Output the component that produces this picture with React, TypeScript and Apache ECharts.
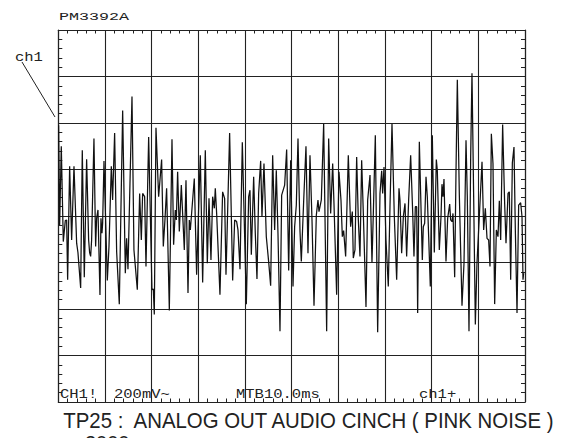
import React, { useEffect, useRef } from "react";
import * as echarts from "echarts";

// Time of each trace vertex (ms) — 10 ms / div, 10 divisions
const timeMs = [
  0.07, 0.29, 0.64, 1.07, 1.5, 1.79, 2.0, 2.43, 2.86, 3.36, 3.93, 4.21, 4.79, 5.14, 5.57, 6.07, 6.5, 6.71, 6.93, 7.14,
  7.64, 8.0, 8.21, 8.5, 8.93, 9.14, 9.36, 9.5, 9.79, 10.14, 10.5, 10.86, 11.36, 11.64, 12.07, 12.5, 13.07, 13.79, 14.36, 14.64,
  14.93, 15.79, 16.21, 16.93, 17.43, 17.79, 18.07, 18.5, 18.79, 19.36,
  20.07, 20.36, 20.57, 20.93, 21.5, 22.14, 22.5, 22.86, 23.21, 23.79, 24.36, 24.71, 25.07, 25.29, 25.57, 25.93, 26.36, 27.0, 27.36, 27.79,
  28.07, 28.29, 29.14, 29.64, 30.21, 30.43, 30.93, 31.5, 31.93, 32.29, 32.71, 33.07, 33.43, 33.64, 33.93, 34.64, 35.21, 35.64, 35.93, 36.14,
  36.71, 37.36, 37.79, 38.21, 38.5, 38.93, 39.43, 40.29,
  40.79, 41.07, 41.36, 41.86, 42.21, 42.57, 42.93, 43.36, 43.64, 44.07, 44.57, 45.07, 45.5, 45.93, 46.36, 46.71, 47.07, 47.5, 47.86, 48.5,
  48.93, 49.36, 49.79, 50.29, 50.64, 51.0, 51.36, 51.79, 52.07, 52.57, 53.07, 53.5, 53.93, 54.36, 54.79, 55.29, 55.64, 55.86, 56.36, 56.86,
  57.5, 57.93, 58.36, 58.79,
  59.07, 59.64, 60.14, 60.57, 60.86, 61.14, 61.57, 62.14, 62.64, 63.0, 63.21, 63.57, 63.93, 64.29, 64.64, 65.0, 65.36, 65.93, 66.29, 66.79,
  67.21, 67.5, 67.93, 68.43, 68.93, 69.29, 69.5, 69.79, 70.21, 70.71, 71.07, 71.5, 72.0, 72.5, 73.0, 73.21, 73.57, 73.93, 74.29, 74.64,
  75.07, 75.5, 75.93, 76.21, 76.5, 76.79, 77.0, 77.36, 77.64, 78.0, 78.21, 78.5, 78.79,
  79.07, 79.36, 79.71, 80.14, 80.57, 81.0, 81.21, 81.64, 82.0, 82.21, 82.43, 82.64, 83.07, 83.43, 83.86, 84.07, 84.36, 84.57, 84.93, 85.21,
  85.5, 85.93, 86.5, 86.93, 87.36, 87.64, 88.0, 88.36, 88.64, 89.0, 89.36, 89.71, 90.21, 90.79, 91.14, 91.5, 91.86, 92.21, 92.5, 92.79,
  93.14, 93.5, 93.86, 94.21, 94.5, 94.79, 95.21, 95.64, 95.93, 96.36, 96.64, 96.93, 97.29, 97.64, 97.93, 98.29, 98.64, 99.07, 99.36, 99.57,
  99.71,
];

// Voltage of each trace vertex (mV) — 200 mV / div, 8 divisions
const voltageMv = [
  390, -39, 300, -110, -20, -17, -274, 214, -103, 214, -117, -157, -310, 283, -263, 244, -103, -157, -174, -103,
  333, -131, -10, 26, -340, -10, -74, -31, 237, -17, -277, -131, 214, 69, 357, -153, -379, 454, -246, -96,
  -229, 514, -146, -317, 97, -103, 97, 83, -217, 340,
  -317, -314, -424, 380, 83, 243, -131, -14, 119, -406, 330, -124, 26, -17, 190, -67, 133, -146, 154, -331,
  -17, -60, 161, -253, 126, 261, -286, 283, -203, 76, -189, 83, 33, 119, 11, -339, 104, 76, -253, -96,
  357, -277, -17, -24, -60, -229, 317, -379,
  83, 111, -167, 169, -74, -271, 97, 237, -3, 226, -89, -196, -300, 261, -60, 197, -74, -496, 90, 133,
  286, -234, 240, -303, -46, 47, 333, -67, -196, 61, 300, -160, 261, -17, -386, 4, 69, 19, 69, 397,
  -496, 333, 11, 226,
  54, -339, 190, 69, -89, -63, -174, 261, -46, 19, -181, -146, 254, -17, -174, 240, 11, -391, 69, 176,
  -200, 11, 347, -500, 97, 194, 97, 211, -103, -303, 40, 397, -3, -274, 119, 69, -160, -3, 54, -174,
  69, 261, 19, -174, 40, 40, -417, 319, 97, -189, -46, -31, 169,
  83, -89, -303, 347, -157, 243, 197, -146, -3, 137, 83, 159, -196, -10, 51, -17, -24, 11, -263, 183,
  586, 90, -386, -203, 326, 83, -496, 254, 614, 83, -467, -203, -3, 233, -60, 33, -96, -103, -217, 354,
  226, -379, -60, -89, 66, -103, 394, 54, -117, 97, 104, -274, 229, 297, -60, -417, 47, 57, -3, -274,
  -246,
];

// Screen settings
const timeRange = [0, 100]; // ms
const timePerDiv = 10;
const voltRange = [-800, 800]; // mV
const voltPerDiv = 200;
const subDivisions = 5;

// Texts
const instrumentLabel = "PM3392A";
const channelMarker = "ch1";
const statusLabels = ["CH1!", "200mV~", "MTB10.0ms", "ch1+"];
const captionText = "TP25 :  ANALOG OUT AUDIO CINCH ( PINK NOISE )";
const captionNext = "2000";

const INK = "#222";

function edgeXAxis(position: "bottom" | "top", withGrid: boolean) {
  return {
    type: "value",
    position,
    min: timeRange[0],
    max: timeRange[1],
    interval: timePerDiv,
    axisLine: { show: true, onZero: false, lineStyle: { color: INK, width: 1.2 } },
    axisTick: { show: false, inside: true },
    minorTick: { show: true, splitNumber: subDivisions, length: 3.5, lineStyle: { color: INK, width: 1 } },
    axisLabel: { show: false },
    splitLine: { show: withGrid, lineStyle: { color: INK, width: 1.1 } },
    minorSplitLine: { show: false },
  };
}

function edgeYAxis(position: "left" | "right", withGrid: boolean) {
  return {
    type: "value",
    position,
    min: voltRange[0],
    max: voltRange[1],
    interval: voltPerDiv,
    axisLine: { show: true, onZero: false, lineStyle: { color: INK, width: 1.2 } },
    axisTick: { show: false, inside: true },
    minorTick: { show: true, splitNumber: subDivisions, length: 4, lineStyle: { color: INK, width: 1 } },
    axisLabel: { show: false },
    splitLine: { show: withGrid, lineStyle: { color: INK, width: 1.1 } },
    minorSplitLine: { show: false },
  };
}

export default function App() {
  const ref = useRef<HTMLDivElement>(null);

  useEffect(() => {
    if (!ref.current) return;
    const chart = echarts.init(ref.current, undefined, { renderer: "svg" });
    const trace = timeMs.map((t, i) => [t, voltageMv[i]]);
    const mono = (size: number) => `${size}px "Liberation Mono", monospace`;

    chart.setOption({
      animation: false,
      backgroundColor: "#ffffff",
      grid: { left: 58.3, top: 30, width: 466.7, height: 372, containLabel: false, outerBoundsMode: "none" },
      xAxis: [edgeXAxis("bottom", true), edgeXAxis("top", false)],
      yAxis: [edgeYAxis("left", true), edgeYAxis("right", false)],
      series: [
        {
          type: "line",
          xAxisIndex: 0,
          yAxisIndex: 0,
          data: trace,
          showSymbol: false,
          symbol: "none",
          clip: true,
          lineStyle: { color: "#111", width: 1.25 },
          emphasis: { disabled: true },
        },
      ],
      graphic: [
        {
          type: "text",
          x: 59,
          y: 17,
          scaleX: 1.45,
          style: { text: instrumentLabel, font: mono(11.5), fill: INK, align: "left", verticalAlign: "middle", textAlign: "left", textVerticalAlign: "middle" },
        },
        {
          type: "text",
          x: 15,
          y: 57,
          scaleX: 1.15,
          style: { text: channelMarker, font: mono(13.5), fill: INK, align: "left", verticalAlign: "middle", textAlign: "left", textVerticalAlign: "middle" },
        },
        {
          type: "line",
          shape: { x1: 22, y1: 62, x2: 55, y2: 117 },
          style: { stroke: INK, lineWidth: 1 },
        },
        ...[
          { t: statusLabels[0], x: 60 },
          { t: statusLabels[1], x: 114 },
          { t: statusLabels[2], x: 236 },
          { t: statusLabels[3], x: 419 },
        ].map((d) => ({
          type: "text",
          x: d.x,
          y: 394,
          scaleX: 1.15,
          style: { text: d.t, font: mono(13.5), fill: INK, align: "left", verticalAlign: "middle", textAlign: "left", textVerticalAlign: "middle" },
        })),
        {
          type: "text",
          x: 63.3,
          y: 420,
          scaleY: 1.08,
          style: { text: captionText, font: '20.4px "Liberation Sans", Arial, sans-serif', fill: INK, align: "left", verticalAlign: "middle", textAlign: "left", textVerticalAlign: "middle" },
        },
        {
          type: "text",
          x: 85,
          y: 443,
          style: { text: captionNext, font: '20px "Liberation Sans", Arial, sans-serif', fill: INK, align: "left", verticalAlign: "middle", textAlign: "left", textVerticalAlign: "middle" },
        },
      ],
    });

    return () => chart.dispose();
  }, []);

  return (
    <div
      ref={ref}
      style={{ position: "fixed", left: 0, top: 0, width: 574, height: 438, background: "#fff" }}
    />
  );
}
